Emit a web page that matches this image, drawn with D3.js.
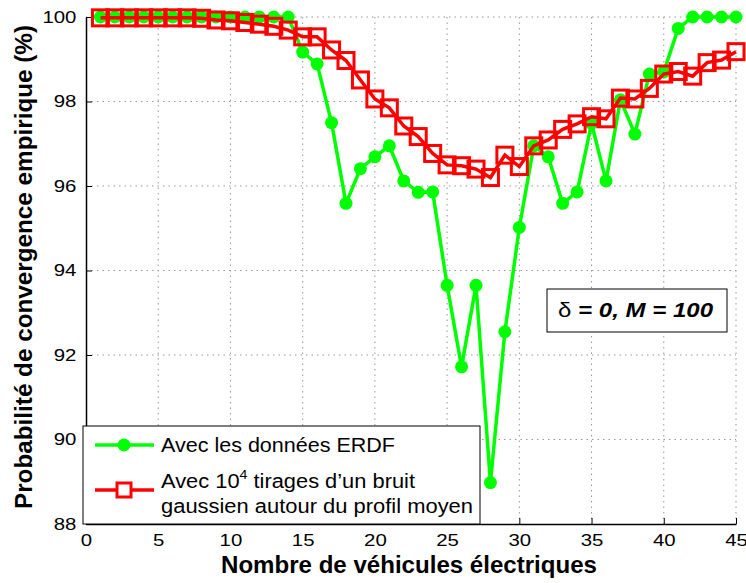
<!DOCTYPE html>
<meta charset="utf-8">
<style>
body { margin: 0; background: #fff; }
svg { font-family: "Liberation Sans", Arial, Helvetica, sans-serif; }
.grid line { stroke: #999; stroke-dasharray: 1.5 4; stroke-width: 1; }
</style>
<svg width="746" height="583"></svg>
<script src="https://cdn.jsdelivr.net/npm/d3@7"></script>
<script>

var vehicules = d3.range(1, 46)

var erdf = [100, 100, 100, 100, 100, 100, 100, 100, 100, 100,
            100, 100, 100, 100, 99.17, 98.89, 97.5, 95.59, 96.41, 96.69,
            96.95, 96.12, 95.85, 95.86, 93.65, 91.72, 93.65, 88.98, 92.55, 95.02,
            96.95, 96.69, 95.59, 95.86, 97.48, 96.12, 98.04, 97.23, 98.65, 98.7,
            99.73, 100, 100, 100, 100]

var gaussien = [99.98, 99.98, 99.98, 99.98, 99.98, 99.98, 99.98, 99.97, 99.93, 99.91,
                99.87, 99.83, 99.78, 99.69, 99.53, 99.53, 99.22, 98.97, 98.51, 98.06,
                97.85, 97.42, 97.17, 96.77, 96.5, 96.48, 96.4, 96.2, 96.73, 96.46,
                96.95, 97.09, 97.34, 97.47, 97.64, 97.59, 98.08, 98.06, 98.31, 98.65,
                98.71, 98.6, 98.92, 98.98, 99.18]

var xTicks = [0, 5, 10, 15, 20, 25, 30, 35, 40, 45]
var yTicks = [88, 90, 92, 94, 96, 98, 100]

var svg = d3.select("svg")
var pLeft = 86, pRight = 736, pTop = 17, pBottom = 524

var x = d3.scaleLinear().domain([0, 45]).range([pLeft, pRight])
var y = d3.scaleLinear().domain([88, 100]).range([pBottom, pTop])

// grid
var grid = svg.append("g").attr("class", "grid")
grid.selectAll(".gx").data(xTicks.slice(1)).enter().append("line")
  .attr("x1", x).attr("x2", x).attr("y1", pTop).attr("y2", pBottom)
grid.selectAll(".gy").data(yTicks.slice(1)).enter().append("line")
  .attr("x1", pLeft).attr("x2", pRight).attr("y1", y).attr("y2", y)

// axes
var xAxis = svg.append("g").attr("transform", "translate(0," + pBottom + ")")
  .call(d3.axisBottom(x).tickValues(xTicks).tickSizeInner(-6).tickSizeOuter(0).tickPadding(10))
var yAxis = svg.append("g").attr("transform", "translate(" + pLeft + ",0)")
  .call(d3.axisLeft(y).tickValues(yTicks).tickSizeInner(-6).tickSizeOuter(0).tickPadding(8))
;[xAxis, yAxis].forEach(function(a){
  a.select(".domain").attr("stroke", "#000").attr("stroke-width", 1.5)
  a.selectAll(".tick line").attr("stroke", "#000")
  a.selectAll("text").attr("font-size", 17).attr("fill", "#000").attr("font-family", null)
    .attr("transform", "scale(1.2,1)")
})

// green series
var line = d3.line().x(function(d, i){ return x(vehicules[i]) }).y(function(d){ return y(d) })
svg.append("path").datum(erdf)
  .attr("fill", "none").attr("stroke", "#00ff00").attr("stroke-width", 3.5).attr("d", line)
svg.selectAll(".pt").data(erdf).enter().append("circle")
  .attr("cx", function(d, i){ return x(vehicules[i]) }).attr("cy", y)
  .attr("r", 6.5).attr("fill", "#00ff00")

// red series
svg.append("path").datum(gaussien)
  .attr("fill", "none").attr("stroke", "#ff0000").attr("stroke-width", 3.5).attr("d", line)
svg.selectAll(".sq").data(gaussien).enter().append("rect")
  .attr("x", function(d, i){ return x(vehicules[i]) - 8 }).attr("y", function(d){ return y(d) - 8 })
  .attr("width", 16).attr("height", 16)
  .attr("fill", "none").attr("stroke", "#ff0000").attr("stroke-width", 3)

// legend
var lg = svg.append("g")
lg.append("rect").attr("x", 83).attr("y", 426).attr("width", 397).attr("height", 98)
  .attr("fill", "#fff").attr("stroke", "#000").attr("stroke-width", 1)
lg.append("line").attr("x1", 95).attr("x2", 154).attr("y1", 445).attr("y2", 445)
  .attr("stroke", "#00ff00").attr("stroke-width", 3.5)
lg.append("circle").attr("cx", 124).attr("cy", 445).attr("r", 6.5).attr("fill", "#00ff00")
lg.append("line").attr("x1", 95).attr("x2", 154).attr("y1", 490).attr("y2", 490)
  .attr("stroke", "#ff0000").attr("stroke-width", 3.5)
lg.append("rect").attr("x", 117).attr("y", 483).attr("width", 14).attr("height", 14)
  .attr("fill", "#fff").attr("stroke", "#ff0000").attr("stroke-width", 3)
lg.append("text").attr("x", 161).attr("y", 452).attr("font-size", 20)
  .attr("textLength", 234).attr("lengthAdjust", "spacingAndGlyphs").text("Avec les données ERDF")
var t2 = lg.append("text").attr("x", 161).attr("y", 488).attr("font-size", 20)
  .attr("textLength", 254).attr("lengthAdjust", "spacingAndGlyphs")
t2.append("tspan").text("Avec 10")
t2.append("tspan").attr("font-size", 13).attr("dy", -9).text("4")
t2.append("tspan").attr("dy", 9).text(" tirages d\u2019un bruit")
lg.append("text").attr("x", 161).attr("y", 513).attr("font-size", 20)
  .attr("textLength", 312).attr("lengthAdjust", "spacingAndGlyphs").text("gaussien autour du profil moyen")

// annotation
svg.append("rect").attr("x", 547).attr("y", 289).attr("width", 180).attr("height", 43)
  .attr("fill", "#fff").attr("stroke", "#000").attr("stroke-width", 1)
var ann = svg.append("text").attr("x", 558).attr("y", 317).attr("font-size", 21)
  .attr("textLength", 155).attr("lengthAdjust", "spacingAndGlyphs")
ann.append("tspan").text("\u03b4")
ann.append("tspan").attr("font-weight", "bold").attr("font-style", "italic").text(" = 0, M = 100")

// axis titles
svg.append("text").attr("x", 221).attr("y", 573).attr("font-size", 24).attr("font-weight", "bold")
  .attr("textLength", 376).attr("lengthAdjust", "spacingAndGlyphs").text("Nombre de véhicules électriques")
svg.append("text").attr("transform", "translate(32,509) rotate(-90)").attr("font-size", 24).attr("font-weight", "bold")
  .attr("textLength", 484).attr("lengthAdjust", "spacingAndGlyphs").text("Probabilité de convergence empirique (%)")

</script>
